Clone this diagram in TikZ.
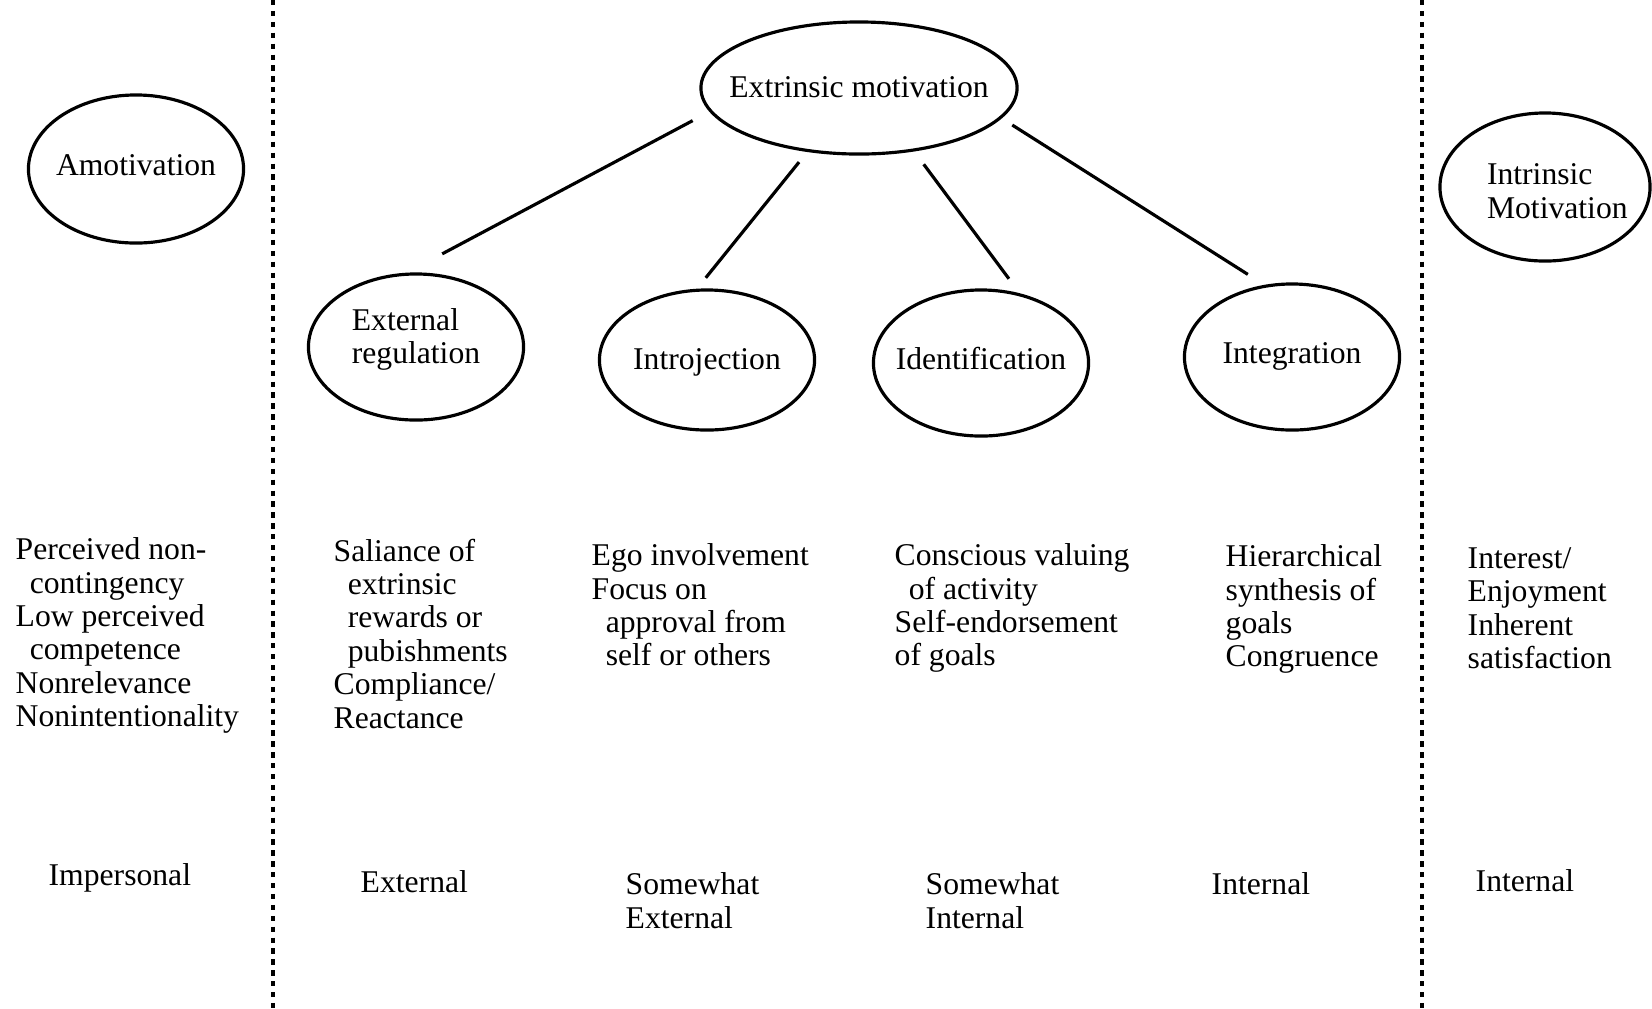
\documentclass[tikz,border=0pt]{standalone}
\usepackage{fontspec}
\setmainfont{Liberation Serif}
\usepackage{tikz}
\usetikzlibrary{shapes.geometric}
\tikzset{
    stage/.style={ellipse, draw, line width=0.9pt, inner sep=0pt,
                  minimum width=2.15cm, minimum height=1.46cm,
                  font=\fontsize{9}{9.5}\selectfont},
    traits/.style={anchor=north west, align=left, inner sep=0pt,
                   font=\fontsize{9}{9.5}\selectfont},
    locus/.style={anchor=north west, align=left, inner sep=0pt,
                  font=\fontsize{9}{9.5}\selectfont},
    link/.style={draw, line width=0.9pt},
    divider/.style={draw, line width=1pt, dash pattern=on 1.5pt off 1.6pt},
}
\newcommand{\elbl}[1]{\makebox[0pt]{\begin{tabular}{@{}l@{}}#1\end{tabular}}}
\newcommand{\indnt}{\hspace*{4pt}}

\begin{document}
\begin{tikzpicture}[x=0.01cm, y=-0.01cm]
        \useasboundingbox (0,0) rectangle (1652,1008);
        \draw[divider] (273,0) -- (273,1008);
        \draw[divider] (1422,0) -- (1422,1008);

        \node [stage, minimum width=3.16cm, minimum height=1.32cm] (extr) at (859,88) {\raisebox{-3pt}[0pt][0pt]{\elbl{Extrinsic motivation}}};
        \node [stage, minimum height=1.48cm] (amot) at (136,169) {\elbl{Amotivation}};
        \node [stage, minimum width=2.1cm, minimum height=1.48cm] (intr) at (1545,187) {\hspace*{7pt}\raisebox{-4.5pt}[0pt][0pt]{\elbl{Intrinsic\\Motivation}}};
        \node [stage] (extreg) at (416,347) {\raisebox{-0.4pt}[0pt][0pt]{\elbl{External\\regulation}}};
        \node [stage, minimum height=1.4cm] (intro) at (707,360) {\raisebox{-3pt}[0pt][0pt]{\elbl{Introjection}}};
        \node [stage] (ident) at (981,363) {\elbl{Identification}};
        \node [stage] (integ) at (1292,357) {\elbl{Integration}};

        \draw[link, shorten <=0.19cm, shorten >=0.4cm] (extr.189) -- (extreg.97);
        \draw[link, shorten <=0.13cm, shorten >=0.14cm] (extr.231.5) -- (intro.98.5);
        \draw[link, shorten <=0.16cm, shorten >=0.18cm] (extr.311.9) -- (ident.61.3);
        \draw[link, shorten <=0.125cm, shorten >=0.195cm] (extr.348.3) -- (integ.111.4);

        \node [traits] (amottx) at (15,537) {Perceived non-\\\indnt contingency\\Low perceived\\\indnt competence\\Nonrelevance\\Nonintentionality};
        \node [traits] (extregtx) at (333,538) {Saliance of\\\indnt extrinsic\\\indnt rewards or\\\indnt pubishments\\Compliance/\\Reactance};
        \node [traits] (introtx) at (591,543) {Ego involvement\\Focus on\\\indnt approval from\\\indnt self or others};
        \node [traits] (identtx) at (894,543) {Conscious valuing\\\indnt of activity\\Self-endorsement\\of goals};
        \node [traits] (integtx) at (1225,544) {Hierarchical\\synthesis of\\goals\\Congruence};
        \node [traits] (intrtx) at (1467,547) {Interest/\\Enjoyment\\Inherent\\satisfaction};

        \node [locus] (amotloc) at (48,863) {Impersonal};
        \node [locus] (extregloc) at (360,870) {External};
        \node [locus] (introloc) at (625,872) {Somewhat\\External};
        \node [locus] (identloc) at (925,872) {Somewhat\\Internal};
        \node [locus] (integloc) at (1211,872) {Internal};
        \node [locus] (intrloc) at (1475,869) {Internal};
    \end{tikzpicture}
\end{document}
